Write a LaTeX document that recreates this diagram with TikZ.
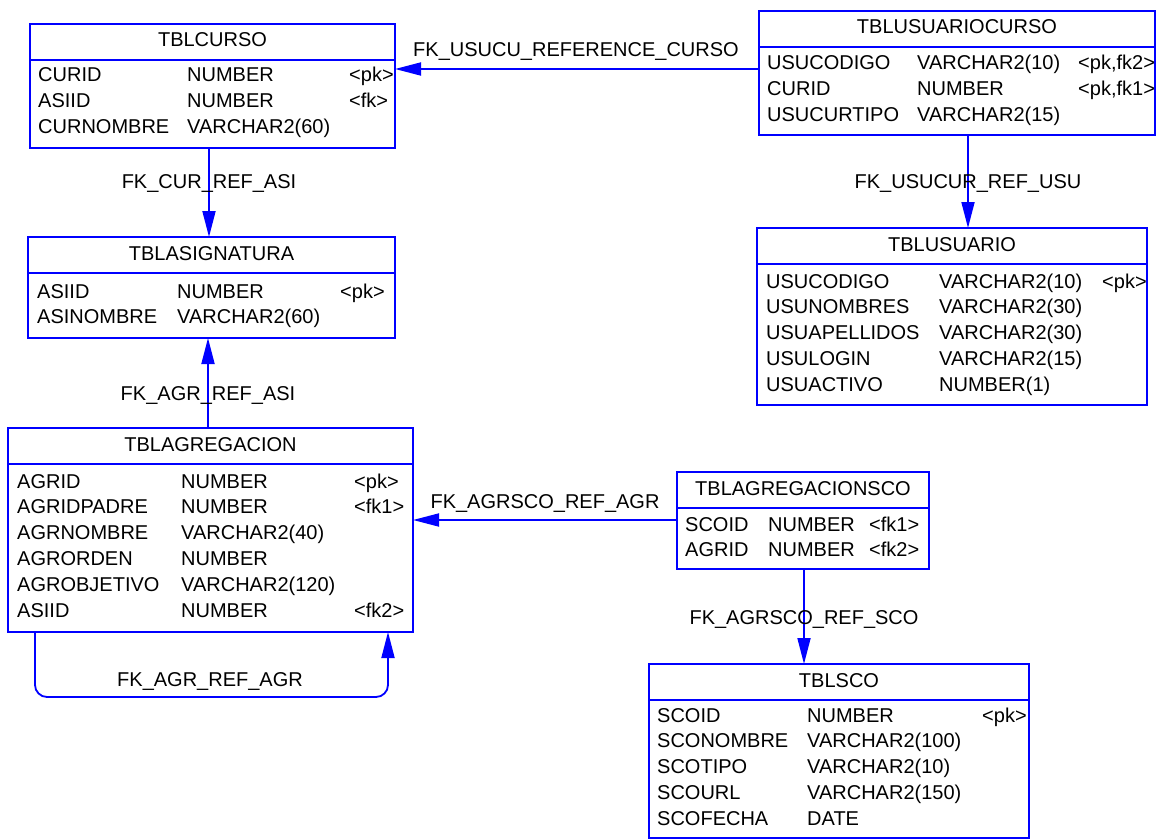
\documentclass[tikz,border=0pt]{standalone}
\usepackage{fontspec}
\setmainfont{Liberation Sans}
\usetikzlibrary{arrows.meta}
\definecolor{erblue}{RGB}{0,0,255}
\newcommand\erfont{\fontsize{20}{23}\selectfont}
\tikzset{
  tbl/.style={draw=erblue, line width=1.8pt, anchor=north west, inner sep=0pt, outer sep=0pt},
  divline/.style={draw=erblue, line width=1.8pt},
  fieldtxt/.style={anchor=base west, inner sep=0pt, font=\erfont},
  titletxt/.style={anchor=base, inner sep=0pt, font=\erfont},
  fklabel/.style={anchor=base, inner sep=0pt, font=\erfont},
  fk/.style={draw=erblue, line width=1.8pt, -{Triangle[length=26pt,width=13pt]}},
}
% table frame: name, x1, y1, x2, y2, title
\newcommand\ertable[6]{%
  \node[tbl, minimum width={#4-#2}, minimum height={#5-#3}] (#1) at (#2,#3) {};
  \draw[divline] (#2,{#3+36}) -- ({#4+1},{#3+36});
  \node[titletxt] (#1-title) at ({(#2+#4)/2},{#3+23}) {#6};
}
% table columns: name, x of name, x of type, x of key, first baseline, rows
\newcommand\erfields[6]{%
  \foreach \a/\b/\c [count=\i from 0] in {#6} {
    \node[fieldtxt] (#1-n\i) at (#2,{#5+25.9*\i}) {\a};
    \node[fieldtxt] (#1-t\i) at (#3,{#5+25.9*\i}) {\b};
    \node[fieldtxt] (#1-k\i) at (#4,{#5+25.9*\i}) {\c};
  }%
}
\begin{document}
\begin{tikzpicture}[x=1pt,y=-1pt]
\useasboundingbox (0,0) rectangle (1157,840);

% tables
\ertable{curso}{30}{24}{395}{148}{TBLCURSO}
\erfields{curso}{38}{187}{349}{82}{CURID/NUMBER/{<pk>}, ASIID/NUMBER/{<fk>}, CURNOMBRE/VARCHAR2(60)/{}}

\ertable{usucurso}{759}{11}{1155}{135}{TBLUSUARIOCURSO}
\erfields{usucurso}{767}{917}{1078}{70}{USUCODIGO/VARCHAR2(10)/{<pk,fk2>}, CURID/NUMBER/{<pk,fk1>}, USUCURTIPO/VARCHAR2(15)/{}}

\ertable{usuario}{757}{228}{1147}{405}{TBLUSUARIO}
\erfields{usuario}{766}{939}{1102}{288}{USUCODIGO/VARCHAR2(10)/{<pk>}, USUNOMBRES/VARCHAR2(30)/{}, USUAPELLIDOS/VARCHAR2(30)/{}, USULOGIN/VARCHAR2(15)/{}, USUACTIVO/NUMBER(1)/{}}

\ertable{asig}{28}{237}{395}{338}{TBLASIGNATURA}
\erfields{asig}{37}{177}{340}{298}{ASIID/NUMBER/{<pk>}, ASINOMBRE/VARCHAR2(60)/{}}

\ertable{agreg}{8}{428}{413}{632}{TBLAGREGACION}
\erfields{agreg}{17}{181}{354}{488}{AGRID/NUMBER/{<pk>}, AGRIDPADRE/NUMBER/{<fk1>}, AGRNOMBRE/VARCHAR2(40)/{}, AGRORDEN/NUMBER/{}, AGROBJETIVO/VARCHAR2(120)/{}, ASIID/NUMBER/{<fk2>}}

\ertable{agsco}{677}{472}{929}{569}{TBLAGREGACIONSCO}
\erfields{agsco}{685}{768}{869}{531}{SCOID/NUMBER/{<fk1>}, AGRID/NUMBER/{<fk2>}}

\ertable{sco}{649}{664}{1029}{838}{TBLSCO}
\erfields{sco}{657}{807}{982}{722}{SCOID/NUMBER/{<pk>}, SCONOMBRE/VARCHAR2(100)/{}, SCOTIPO/VARCHAR2(10)/{}, SCOURL/VARCHAR2(150)/{}, SCOFECHA/DATE/{}}

% guide coordinates for the connector runs
\coordinate (h1) at (0,69);
\coordinate (h2) at (0,520);
\coordinate (h3) at (0,697);
\coordinate (v1) at (209,0);
\coordinate (v2) at (968,0);
\coordinate (v3) at (208,0);
\coordinate (v4) at (804,0);
\coordinate (v5) at (35,0);
\coordinate (v6) at (388,0);

% foreign keys
\draw[fk] (usucurso.west |- h1) -- (curso.east |- h1);
\draw[fk] (curso.south -| v1) -- (asig.north -| v1);
\draw[fk] (usucurso.south -| v2) -- (usuario.north -| v2);
\draw[fk] (agreg.north -| v3) -- (asig.south -| v3);
\draw[fk] (agsco.west |- h2) -- (agreg.east |- h2);
\draw[fk] (agsco.south -| v4) -- (sco.north -| v4);
\draw[fk, rounded corners=12pt] (agreg.south -| v5) -- (v5 |- h3) -- (v6 |- h3) -- (agreg.south -| v6);

% relationship names
\node[fklabel] (l1) at (576,57) {FK\_USUCU\_REFERENCE\_CURSO};
\node[fklabel] (l2) at (209,189) {FK\_CUR\_REF\_ASI};
\node[fklabel] (l3) at (968,189) {FK\_USUCUR\_REF\_USU};
\node[fklabel] (l4) at (208,400) {FK\_AGR\_REF\_ASI};
\node[fklabel] (l5) at (545,508) {FK\_AGRSCO\_REF\_AGR};
\node[fklabel] (l6) at (804,624) {FK\_AGRSCO\_REF\_SCO};
\node[fklabel] (l7) at (210,686) {FK\_AGR\_REF\_AGR};
\end{tikzpicture}
\end{document}
